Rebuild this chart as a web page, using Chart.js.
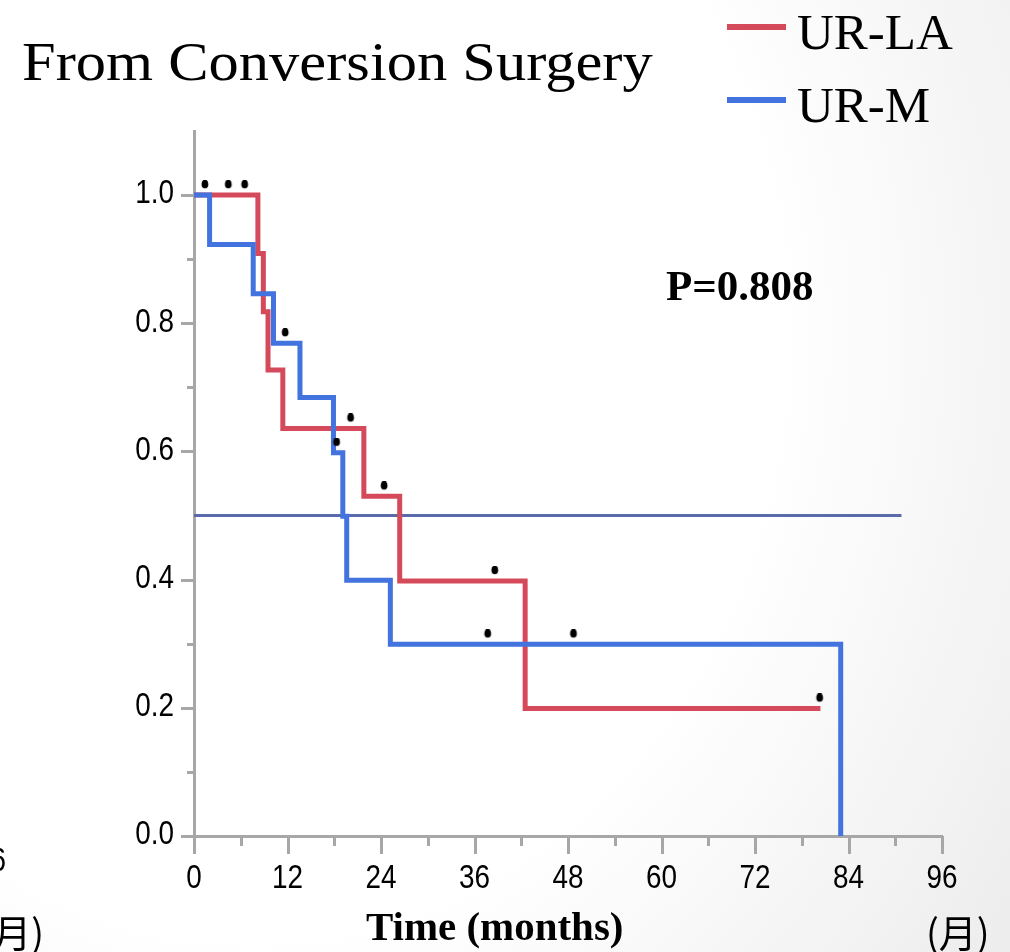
<!DOCTYPE html>
<html lang="en">
<head>
<meta charset="UTF-8">
<title>From Conversion Surgery</title>
<script src="https://cdn.jsdelivr.net/npm/chart.js"></script>
<style>
  html, body { margin: 0; padding: 0; }
  body {
    width: 1010px;
    height: 952px;
    overflow: hidden;
    background: radial-gradient(ellipse 95% 115% at 25% 35%, #ffffff 55%, #ebebeb 100%);
  }
  canvas { display: block; }
</style>
</head>
<body>
<canvas id="km" width="1010" height="952"></canvas>

<script>
// Kaplan-Meier steps: month of each drop and survival after it
const laTimes = [0, 8.2, 8.9, 9.5, 11.4, 21.8, 26.4, 42.5, 80.4];
const laSurv  = [1.0, 0.909, 0.818, 0.727, 0.636, 0.530, 0.398, 0.199, 0.199];
const mTimes  = [0, 2.0, 7.6, 10.2, 13.6, 17.9, 19.1, 19.6, 25.2, 83.0];
const mSurv   = [1.0, 0.923, 0.846, 0.769, 0.684, 0.598, 0.499, 0.399, 0.299, 0.0];

// censored cases (month, survival level of the curve)
const laCensTimes = [1.4, 4.4, 6.5, 20.1, 24.4, 38.6, 80.3];
const laCensSurv  = [1.0, 1.0, 1.0, 0.636, 0.530, 0.398, 0.199];
const mCensTimes  = [11.7, 18.3, 37.7, 48.7];
const mCensSurv   = [0.769, 0.598, 0.299, 0.299];

// median reference line
const medianTimes = [0, 90.8];
const medianSurv  = [0.5, 0.5];

const seriesNames = ['UR-LA', 'UR-M'];
const pValueText = 'P=0.808';

const xMajorTicks = [0, 12, 24, 36, 48, 60, 72, 84, 96];
const xMinorTicks = [6, 18, 30, 42, 54, 66, 78, 90];
const yMajorTicks = [0, 0.2, 0.4, 0.6, 0.8, 1.0];
const yMinorTicks = [0.1, 0.3, 0.7, 0.9];
const xTickLabels = ['0', '12', '24', '36', '48', '60', '72', '84', '96'];
const yTickLabels = ['0.0', '0.2', '0.4', '0.6', '0.8', '1.0'];

const RED = '#d54a5a';
const BLUE = '#4373de';
const AXIS = '#a7a7a7';
const SERIF = '"Liberation Serif", "Times New Roman", serif';
const SANS = '"Liberation Sans", Arial, sans-serif';
const CJK = '"Noto Sans CJK JP", "Noto Sans CJK SC", sans-serif';

const toXY = (xs, ys) => xs.map((t, i) => ({ x: t, y: ys[i] }));

// small black dot sitting just above the curve
function censorMark() {
  const c = document.createElement('canvas');
  c.width = 10;
  c.height = 30;
  const g = c.getContext('2d');
  g.fillStyle = '#000';
  g.beginPath();
  g.ellipse(5, 4, 3.4, 4.3, 0, 0, Math.PI * 2);
  g.fill();
  return c;
}
const mark = censorMark();

// narrow label text: Arial metrics squeezed horizontally
function narrowText(ctx, text, x, y, align) {
  ctx.save();
  ctx.translate(x, y);
  ctx.scale(0.82, 1);
  ctx.textAlign = align;
  ctx.fillText(text, 0, 0);
  ctx.restore();
}

// tick marks (long for labelled values, short in between) and their labels
const axisTicks = {
  id: 'axisTicks',
  afterDraw(chart) {
    const { ctx, scales: { x, y } } = chart;
    ctx.save();
    ctx.strokeStyle = AXIS;
    ctx.lineWidth = 3;
    ctx.beginPath();
    xMajorTicks.forEach(v => {
      const px = Math.round(x.getPixelForValue(v)) + 0.5;
      ctx.moveTo(px, y.bottom); ctx.lineTo(px, y.bottom + 18);
    });
    xMinorTicks.forEach(v => {
      const px = Math.round(x.getPixelForValue(v)) + 0.5;
      ctx.moveTo(px, y.bottom); ctx.lineTo(px, y.bottom + 10);
    });
    yMajorTicks.forEach(v => {
      const py = Math.round(y.getPixelForValue(v)) + 0.5;
      ctx.moveTo(x.left, py); ctx.lineTo(x.left - 13, py);
    });
    yMinorTicks.forEach(v => {
      const py = Math.round(y.getPixelForValue(v)) + 0.5;
      ctx.moveTo(x.left, py); ctx.lineTo(x.left - 7, py);
    });
    ctx.stroke();

    ctx.fillStyle = '#000';
    ctx.font = '34px ' + SANS;
    ctx.textBaseline = 'middle';
    xMajorTicks.forEach((v, i) => {
      narrowText(ctx, xTickLabels[i], x.getPixelForValue(v), y.bottom + 43, 'center');
    });
    yMajorTicks.forEach((v, i) => {
      narrowText(ctx, yTickLabels[i], x.left - 20, y.getPixelForValue(v) - 1, 'right');
    });
    ctx.restore();
  }
};

// heading, legend, p-value and axis caption
const slideText = {
  id: 'slideText',
  afterDraw(chart) {
    const ctx = chart.ctx;
    ctx.save();
    ctx.fillStyle = '#000';
    ctx.textBaseline = 'alphabetic';

    ctx.save();
    ctx.translate(22, 80);
    ctx.scale(1.1, 1);
    ctx.font = '55px ' + SERIF;
    ctx.fillText('From Conversion Surgery', 0, 0);
    ctx.restore();

    const legendColors = [RED, BLUE];
    seriesNames.forEach((name, i) => {
      const ly = 27 + i * 73;
      ctx.strokeStyle = legendColors[i];
      ctx.lineWidth = 6;
      ctx.beginPath();
      ctx.moveTo(727, ly);
      ctx.lineTo(786, ly);
      ctx.stroke();
      ctx.font = '51px ' + SERIF;
      ctx.fillText(name, 797, ly + 22);
    });

    ctx.font = 'bold 43px ' + SERIF;
    ctx.fillText(pValueText, 666, 300);

    ctx.save();
    ctx.translate(366, 940);
    ctx.scale(1.05, 1);
    ctx.font = 'bold 39px ' + SERIF;
    ctx.fillText('Time (months)', 0, 0);
    ctx.restore();

    ctx.font = '38px ' + CJK;
    ctx.textAlign = 'left';
    ctx.fillText('(月)', 926, 947);
    ctx.textAlign = 'right';
    ctx.fillText('(月)', 44, 947);
    ctx.font = '34px ' + SANS;
    narrowText(ctx, '96', 6, 871, 'right');
    ctx.restore();
  }
};

new Chart(document.getElementById('km'), {
  type: 'line',
  data: {
    datasets: [
      {
        label: 'censored',
        data: toXY(laCensTimes, laCensSurv).concat(toXY(mCensTimes, mCensSurv)),
        showLine: false,
        pointStyle: mark,
        pointRadius: 4,
        order: 0
      },
      {
        label: seriesNames[1],
        data: toXY(mTimes, mSurv),
        stepped: true,
        borderColor: BLUE,
        borderWidth: 5,
        pointRadius: 0,
        fill: false,
        order: 1
      },
      {
        label: seriesNames[0],
        data: toXY(laTimes, laSurv),
        stepped: true,
        borderColor: RED,
        borderWidth: 5,
        pointRadius: 0,
        fill: false,
        order: 2
      },
      {
        label: 'median',
        data: toXY(medianTimes, medianSurv),
        borderColor: '#5a6aab',
        borderWidth: 3,
        pointRadius: 0,
        fill: false,
        order: 3
      }
    ]
  },
  options: {
    responsive: false,
    animation: false,
    devicePixelRatio: 1,
    layout: { padding: { top: 131, left: 0, right: 68, bottom: 0 } },
    plugins: {
      legend: { display: false },
      tooltip: { enabled: false }
    },
    scales: {
      x: {
        type: 'linear',
        min: 0,
        max: 96,
        grid: { display: false, drawTicks: false },
        border: { display: true, color: AXIS, width: 3 },
        afterBuildTicks: s => { s.ticks = xMajorTicks.map(v => ({ value: v })); },
        afterFit: s => { s.height = 116; },
        ticks: { display: false }
      },
      y: {
        type: 'linear',
        min: 0,
        max: 1.1,
        grid: { display: false, drawTicks: false },
        border: { display: true, color: AXIS, width: 3 },
        afterBuildTicks: s => { s.ticks = yMajorTicks.map(v => ({ value: v })); },
        afterFit: s => { s.width = 194; },
        ticks: { display: false }
      }
    }
  },
  plugins: [axisTicks, slideText]
});
</script>
</body>
</html>
